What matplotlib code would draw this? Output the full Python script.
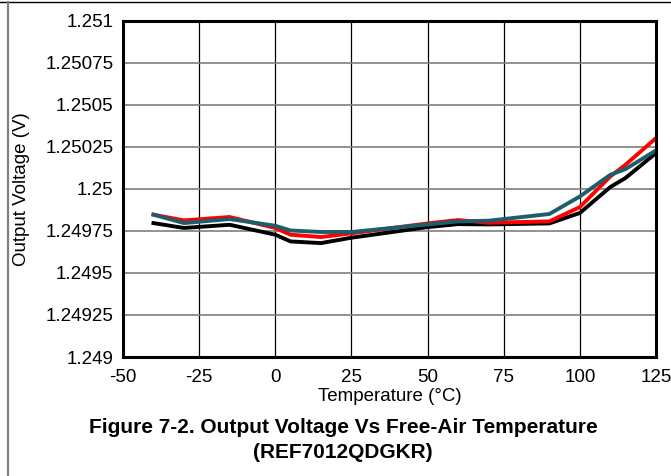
import numpy as np
import matplotlib
matplotlib.use('Agg')
import matplotlib.pyplot as plt
from matplotlib.lines import Line2D

plt.rcParams['font.family'] = ['Liberation Sans', 'DejaVu Sans']
plt.rcParams['axes.unicode_minus'] = False

# temperatures [degC] and output voltage of three units [V]
temps = [-40, -30, -15, 0, 5, 15, 25, 50, 60, 70, 90, 100, 110, 115, 125]
v_black = [1.249796, 1.249767, 1.249786, 1.249727, 1.249687, 1.249677, 1.249709, 1.249772,
           1.249790, 1.249788, 1.249794, 1.249856, 1.250010, 1.250064, 1.250212]
v_red = [1.249846, 1.249812, 1.249832, 1.249767, 1.249727, 1.249713, 1.249735, 1.249794,
         1.249814, 1.249798, 1.249806, 1.249891, 1.250073, 1.250143, 1.250301]
v_teal = [1.249846, 1.249796, 1.249820, 1.249780, 1.249752, 1.249743, 1.249743, 1.249788,
          1.249806, 1.249810, 1.249850, 1.249954, 1.250083, 1.250117, 1.250228]

xticks = [-50, -25, 0, 25, 50, 75, 100, 125]
yticks = [1.249, 1.24925, 1.2495, 1.24975, 1.25, 1.25025, 1.2505, 1.25075, 1.251]
ytick_labels = ['1.249', '1.24925', '1.2495', '1.24975', '1.25', '1.25025', '1.2505', '1.25075', '1.251']

fig = plt.figure(figsize=(6.71, 4.76), dpi=100)
ax = fig.add_axes([0.1833, 0.25, 0.7943, 0.7069])

ax.plot(temps, v_black, color='black', lw=2.8, solid_joinstyle='miter')
ax.plot(temps, v_red, color='#ff0000', lw=2.8, solid_joinstyle='miter')
ax.plot(temps, v_teal, color='#1b5e6c', lw=2.8, solid_joinstyle='miter')

ax.set_xlim(-50, 125)
ax.set_ylim(1.249, 1.251)
ax.set_xticks(xticks)
ax.set_yticks(yticks)
ax.set_yticklabels(ytick_labels)

for x in xticks[1:-1]:
    ax.axvline(x, color='black', lw=0.9, zorder=0.5)
for y in yticks[1:-1]:
    ax.axhline(y, color='#7f7f7f', lw=1.2, zorder=0.5)

for s in ax.spines.values():
    s.set_linewidth(2.2)
ax.tick_params(axis='both', length=0, labelsize=13.5)
ax.tick_params(axis='x', pad=9)
ax.tick_params(axis='y', pad=7)

ax.set_xlabel('Temperature (\u00b0C)', fontsize=13.5, labelpad=1)
ax.set_ylabel('Output Voltage (V)', fontsize=13.5, labelpad=11)

fig.text(0.511, 0.101, 'Figure 7-2. Output Voltage Vs Free-Air Temperature',
         ha='center', va='center', fontsize=15, fontweight='bold')
fig.text(0.511, 0.05, '(REF7012QDGKR)', ha='center', va='center', fontsize=15, fontweight='bold')

# page frame lines
fig.add_artist(Line2D([0, 1], [0.996, 0.996], color='black', lw=1.0, transform=fig.transFigure))
fig.add_artist(Line2D([0.012, 0.012], [0, 0.996], color='#808080', lw=1.6, transform=fig.transFigure))

fig.savefig('out.png', dpi=100)
